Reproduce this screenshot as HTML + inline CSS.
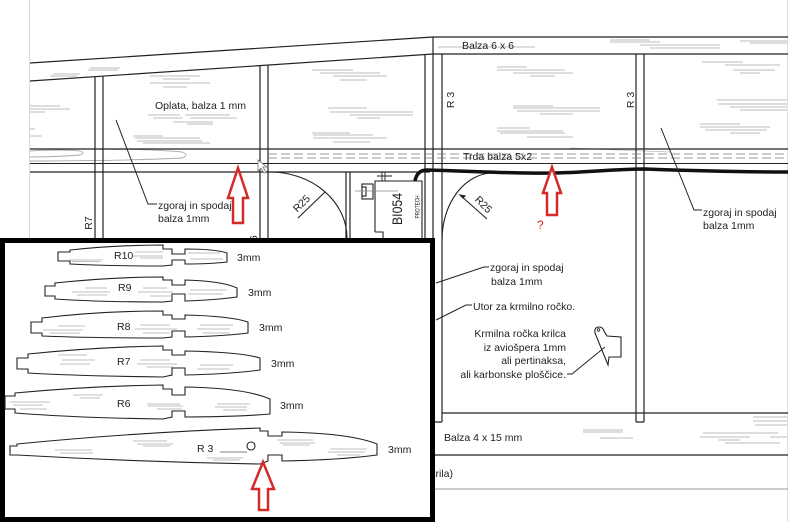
<!DOCTYPE html>
<html>
<head>
<meta charset="utf-8">
<style>
  html,body{margin:0;padding:0;background:#fff;}
  svg{display:block;}
  text{font-family:"Liberation Sans",sans-serif;fill:#222;}
</style>
</head>
<body>
<svg width="800" height="522" viewBox="0 0 800 522" xmlns="http://www.w3.org/2000/svg">
<rect width="800" height="522" fill="#fff"/>

<!-- light page borders -->
<line x1="29.5" y1="0" x2="29.5" y2="240" stroke="#d8d8d8" stroke-width="1"/>
<line x1="787.5" y1="0" x2="787.5" y2="522" stroke="#e0e0e0" stroke-width="1"/>

<!-- grain hatching (gray) -->
<g stroke="#a8a8a8" stroke-width="0.8" fill="none">
  <path d="M53,74 H80 M88,70 H118 M50,76 H77 M90,68 H120"/>
  <path d="M150,76 H200 M163,79 H190 M150,83 H210 M163,87 H187"/>
  <path d="M148,115 H180 M185,115 H230 M153,118 H183 M190,118 H237 M173,122 H213 M187,124 H213"/>
  <path d="M133,136 H163 M135,138 H200 M137,141 H202 M143,143 H210"/>
  <path d="M30,106 H60 M30,109 H70 M30,112 H45 M30,129 H35 M30,136 H42"/>
  <path d="M312,70 H353 M320,73 H380 M333,76 H387 M340,80 H367"/>
  <path d="M328,108 H367 M330,112 H413 M350,115 H413 M357,118 H380"/>
  <path d="M312,133 H350 M313,135 H373 M313,138 H387 M333,142 H370"/>
  <path d="M497,67 H527 M497,70 H565 M513,73 H573 M530,76 H555"/>
  <path d="M513,106 H553 M513,108 H600 M517,111 H600 M540,114 H573"/>
  <path d="M497,128 H530 M497,131 H563 M500,133 H565 M527,137 H573"/>
  <path d="M702,62 H743 M725,65 H780 M733,70 H775 M740,73 H760"/>
  <path d="M717,100 H787 M718,104 H787 M730,107 H787 M740,110 H787"/>
  <path d="M700,124 H740 M700,127 H770 M705,130 H767 M730,133 H760"/>
  <path d="M610,40 H650 M610,42 H660 M640,45 H720 M650,48 H720 M740,41 H787 M750,43 H787 M438,47 H535"/>
  <path d="M583,430 H623 M583,432 H623 M600,438 H633 M753,417 H787 M753,421 H787 M755,425 H787 M703,433 H778 M700,437 H750 M770,437 H787 M718,440 H740 M725,443 H780"/>
  <path d="M570,148 Q620,150 670,152" stroke="#bbb"/>
</g>

<!-- ghost spar profiles on left -->
<g stroke="#aaa" stroke-width="0.9" fill="none">
  <path d="M30,151 Q60,149 80,151 Q86,153 80,155 Q55,157 30,157"/>
  <path d="M90,149 Q150,149 182,152 Q190,155 182,158 Q120,161 30,161"/>
</g>

<!-- main structure -->
<g stroke="#222" stroke-width="1.2" fill="none">
  <path d="M30,63 L433,37 L788,37"/>
  <path d="M30,81 L433,54 L788,54"/>
  <path d="M30,149 H788"/>
  <path d="M30,163.5 H788" stroke-width="1"/>
  <path d="M30,172 H430"/>
  <path d="M95,76.5 V240 M103,76 V240"/>
  <path d="M260,65.5 V240 M268,65 V240"/>
  <path d="M346,172 V240 M350,172 V240"/>
  <path d="M425,54.5 V240"/>
  <path d="M433,37 V422 M442,54 V422 M433,422 H442"/>
  <path d="M636,54 V422 M644,54 V422 M636,422 H644"/>
  <path d="M442,413 H788"/>
  <path d="M435,455 H788" stroke-width="1.3"/>
</g>
<path d="M435,489 H788" stroke="#999" stroke-width="0.9"/>
<path d="M268,154 H788 M268,158 H788" stroke="#777" stroke-width="0.8" stroke-dasharray="9,4" fill="none"/>

<!-- arcs -->
<g stroke="#222" stroke-width="1.1" fill="none">
  <path d="M270,172 A77,66 0 0 1 347,238"/>
  <path d="M493,173 A51,67 0 0 0 442,240"/>
  <path d="M298,218 L325,192"/>
  <path d="M460,195 L487,219"/>
  <path d="M460,195 l5,1 l-2,2 z" fill="#222"/>
</g>

<!-- servo -->
<g stroke="#222" stroke-width="1.1" fill="#fff">
  <path d="M375,232 V181 H422 V240 M375,232 H383 V240"/>
  <rect x="362" y="184" width="11" height="15"/>
  <rect x="362" y="187" width="4" height="9"/>
  <path d="M382,172 V181 M385,172 V181 M377,176 H392" fill="none" stroke-width="0.9"/>
  <path d="M355,191 H398" fill="none" stroke="#888" stroke-width="0.7"/>
</g>
<text transform="translate(402,209) rotate(-90)" text-anchor="middle" font-size="14" textLength="32" lengthAdjust="spacingAndGlyphs">BI054</text>
<text transform="translate(419.5,207) rotate(-90)" text-anchor="middle" font-size="6.5" textLength="23" lengthAdjust="spacingAndGlyphs">PROTECH</text>

<!-- cable -->
<path d="M415,181 Q417,170 427,170 C470,171 520,174 555,173 C595,172 615,169 645,169 C700,171 740,172 788,172" stroke="#111" stroke-width="3.5" fill="none"/>

<!-- cursor -->
<polygon points="258,160 258,171 261,168 264,173 266,172 263,167 267,167" fill="#fff" stroke="#777" stroke-width="0.8"/>

<!-- leaders -->
<g stroke="#222" stroke-width="1" fill="none">
  <path d="M116,120 L148,204 L157,204"/>
  <path d="M661,128 L694,210 L702,210"/>
  <path d="M436,283 L484,267 L489,267"/>
  <path d="M436,320 L466,305 L472,305"/>
  <path d="M567,374 L572,374 L605,347"/>
</g>

<!-- control horn -->
<path d="M595,333 Q594,327 599,327 Q603,327 604,331 L607,336 L621,337 L621,357 L609,357 L608,365 Z" fill="none" stroke="#222" stroke-width="1.1"/>
<circle cx="598.5" cy="330" r="1.3" fill="none" stroke="#222" stroke-width="0.8"/>

<!-- labels -->
<g font-size="10.5">
  <text x="462" y="49">Balza 6 x 6</text>
  <text x="155" y="109">Oplata, balza 1 mm</text>
  <text x="463" y="160">Trda balza  5x2</text>
  <text x="158" y="209">zgoraj in spodaj</text>
  <text x="158" y="222">balza 1mm</text>
  <text x="703" y="216">zgoraj in spodaj</text>
  <text x="703" y="229">balza 1mm</text>
  <text x="490" y="271">zgoraj in spodaj</text>
  <text x="491" y="285">balza 1mm</text>
  <text x="473" y="310">Utor za krmilno ročko.</text>
  <text x="566" y="337" text-anchor="end">Krmilna ročka krilca</text>
  <text x="566" y="351" text-anchor="end">iz aviošpera 1mm</text>
  <text x="566" y="364" text-anchor="end">ali pertinaksa,</text>
  <text x="566" y="378" text-anchor="end">ali karbonske ploščice.</text>
  <text x="444" y="441">Balza 4 x 15 mm</text>
  <text x="453" y="477" text-anchor="end">(krila)</text>
  <text transform="translate(454,100) rotate(-90)" text-anchor="middle">R 3</text>
  <text transform="translate(634,100) rotate(-90)" text-anchor="middle">R 3</text>
  <text transform="translate(92,223) rotate(-90)" text-anchor="middle">R7</text>
  <text transform="translate(257,242) rotate(-90)" text-anchor="middle">R6</text>
  <text transform="translate(344,245) rotate(-90)" text-anchor="middle">R5</text>
  <text transform="translate(304,206) rotate(-45)" text-anchor="middle">R25</text>
  <text transform="translate(481,207) rotate(45)" text-anchor="middle">R25</text>
</g>

<!-- red arrows (main) -->
<g stroke="#d42a2a" stroke-width="2.5" fill="#fff" stroke-linejoin="miter">
  <polygon points="238,168 248,198 243,198 243,223 233,223 233,198 228,198"/>
  <polygon points="552,167 561,193 557,193 557,215 547,215 547,193 543,193"/>
</g>
<text x="537" y="229" font-size="12" style="fill:#d42a2a">?</text>

<!-- inset box -->
<rect x="2.5" y="240.5" width="430" height="279" fill="#fff" stroke="#000" stroke-width="5"/>

<!-- ribs in inset -->
<g stroke="#222" stroke-width="1.1" fill="#fff">
  <path d="M58,252 L70,252 L70,250 Q118,245 163,245 L163,249 L172,249 L172,254 L185,254 L185,249 Q215,249 227,253 L227,262 Q210,264 185,264 L185,260 L172,260 L172,265 L163,266 Q110,266 70,264 L70,261 L58,261 Z"/>
  <path d="M45,286 L55,286 L55,283 Q110,277 163,277 L163,280 L172,280 L172,285 L185,285 L185,280 Q222,281 237,288 L237,297 Q215,300 185,301 L185,294 L172,294 L172,301 L163,302 Q100,302 55,299 L55,296 L45,296 Z"/>
  <path d="M31,322 L42,322 L42,318 Q100,311 163,311 L163,315 L172,315 L172,319 L185,319 L185,315 Q230,316 248,322 L248,333 Q225,336 185,337 L185,331 L172,331 L172,337 L163,338 Q90,338 42,336 L42,333 L31,333 Z"/>
  <path d="M17,358 L28,358 L28,354 Q95,347 163,346 L163,350 L172,350 L172,355 L185,355 L185,351 Q240,352 260,358 L260,370 Q230,374 185,375 L185,368 L172,368 L172,375 L163,377 Q80,376 28,373 L28,369 L17,369 Z"/>
  <path d="M5,396 L15,396 L15,393 Q90,386 163,385 L163,389 L172,389 L172,395 L185,395 L185,387 Q245,388 270,399 L270,414 Q235,417 185,417 L185,411 L172,411 L172,417 L163,419 Q80,418 15,413 L15,409 L5,409 Z"/>
  <path d="M10,446 L17,446 L17,444 Q140,432 260,428 L260,431 L268,431 L268,436 L282,436 L282,432 Q350,433 377,444 L377,455 Q340,460 282,461 L282,455 L268,455 L268,461 L260,464 Q140,462 17,455 L10,455 Z"/>
  <circle cx="251" cy="446" r="4" fill="none"/>
</g>
<!-- rib grain -->
<g stroke="#aaa" stroke-width="0.8" fill="none">
  <path d="M70,260 H103 M72,261.5 H100 M135,252 H163 M133,256 H163 M140,258 H163 M188,253 H220 M190,259 H223"/>
  <path d="M85,288 H107 M72,292 H110 M77,295 H107 M143,288 H167 M138,292 H173 M150,296 H173 M190,290 H227 M188,294 H223"/>
  <path d="M58,326 H85 M43,330 H83 M50,333 H80 M140,325 H170 M135,329 H177 M143,333 H170 M200,325 H233 M197,329 H230 M203,333 H230"/>
  <path d="M58,355 H87 M62,360 H95 M60,364 H90 M140,360 H170 M137,364 H177 M147,367 H173 M200,365 H233 M197,369 H230"/>
  <path d="M73,395 H103 M80,398 H100 M10,402 H50 M13,405 H43 M20,409 H47 M147,404 H180 M148,406 H183 M157,409 H182 M217,404 H250 M215,407 H247 M223,410 H247"/>
  <path d="M133,441 H167 M137,444 H173 M143,446 H170 M55,450 H92 M60,453 H93 M207,458 H243 M213,460 H240 M277,440 H313 M280,443 H315 M283,445 H310 M330,449 H367 M328,452 H365 M337,455 H360"/>
  <path d="M220,452 H247" stroke="#555"/>
</g>

<!-- inset labels -->
<g font-size="10.5">
  <text x="114" y="259">R10</text>
  <text x="118" y="291">R9</text>
  <text x="117" y="330">R8</text>
  <text x="117" y="365">R7</text>
  <text x="117" y="407">R6</text>
  <text x="197" y="452">R 3</text>
  <text x="237" y="261">3mm</text>
  <text x="248" y="296">3mm</text>
  <text x="259" y="331">3mm</text>
  <text x="271" y="367">3mm</text>
  <text x="280" y="409">3mm</text>
  <text x="388" y="453">3mm</text>
</g>

<!-- red arrow in inset -->
<polygon points="263,462 274,489 268,489 268,510 259,510 259,489 252,489" stroke="#d42a2a" stroke-width="2.5" fill="#fff"/>

</svg>
</body>
</html>
